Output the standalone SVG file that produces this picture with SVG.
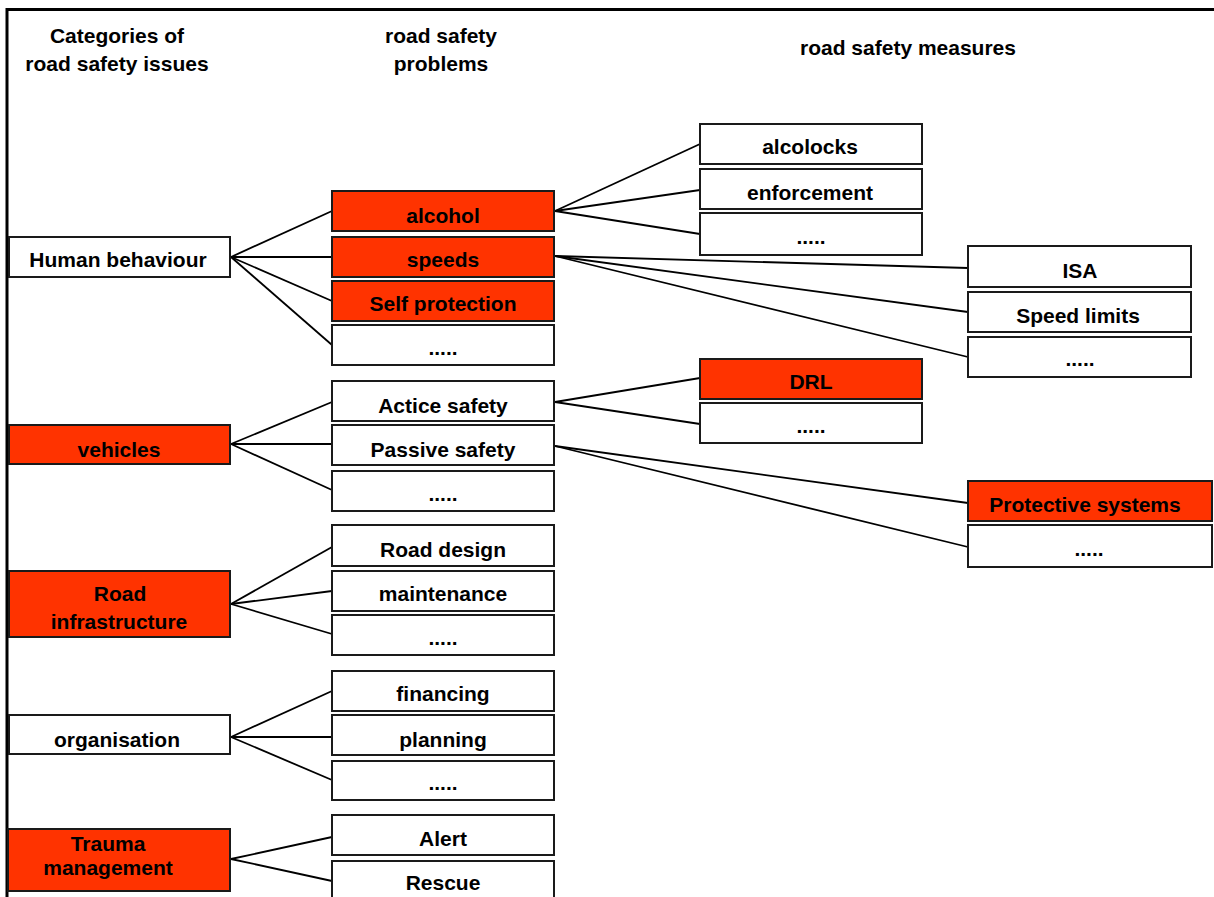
<svg xmlns="http://www.w3.org/2000/svg" width="1214" height="897" viewBox="0 0 1214 897">
<style>
text{font-family:"Liberation Sans",Arial,sans-serif;font-weight:bold;font-size:21px;fill:#000;text-anchor:middle}
.b{fill:#fff;stroke:#1a1a1a;stroke-width:2}
.r{fill:#ff3300;stroke:#1a1a1a;stroke-width:2}
.c line{stroke:#000;stroke-width:1.8}
</style>
<rect width="1214" height="897" fill="#fff"/>
<g id="frame"><path d="M7,897 V9.5 H1214" fill="none" stroke="#000" stroke-width="3"/></g>
<g id="headers">
<text x="117" y="43">Categories of</text>
<text x="117" y="71">road safety issues</text>
<text x="441" y="43">road safety</text>
<text x="441" y="71">problems</text>
<text x="908" y="55">road safety measures</text>
</g>
<g class="c" id="connectors">
<line x1="231" y1="257" x2="332" y2="211"/>
<line x1="231" y1="257" x2="332" y2="257"/>
<line x1="231" y1="257" x2="332" y2="301"/>
<line x1="231" y1="257" x2="332" y2="345"/>
<line x1="555" y1="211" x2="700" y2="144"/>
<line x1="555" y1="211" x2="700" y2="190"/>
<line x1="555" y1="211" x2="700" y2="234"/>
<line x1="555" y1="256" x2="968" y2="268"/>
<line x1="555" y1="256" x2="968" y2="312"/>
<line x1="555" y1="256" x2="968" y2="357"/>
<line x1="231" y1="444" x2="332" y2="402"/>
<line x1="231" y1="444" x2="332" y2="444"/>
<line x1="231" y1="444" x2="332" y2="490"/>
<line x1="555" y1="402" x2="700" y2="378"/>
<line x1="555" y1="402" x2="700" y2="424"/>
<line x1="555" y1="446" x2="968" y2="503"/>
<line x1="555" y1="446" x2="968" y2="547"/>
<line x1="231" y1="604" x2="332" y2="547"/>
<line x1="231" y1="604" x2="332" y2="591"/>
<line x1="231" y1="604" x2="332" y2="634"/>
<line x1="231" y1="737" x2="332" y2="691"/>
<line x1="231" y1="737" x2="332" y2="737"/>
<line x1="231" y1="737" x2="332" y2="780"/>
<line x1="231" y1="859" x2="332" y2="837"/>
<line x1="231" y1="859" x2="332" y2="881"/>
</g>
<g id="n-human"><rect class="b" x="9" y="237" width="221" height="40"/><text x="118" y="267">Human behaviour</text></g>
<g id="n-vehicles"><rect class="r" x="9" y="425" width="221" height="39"/><text x="119" y="457">vehicles</text></g>
<g id="n-road"><rect class="r" x="9" y="571" width="221" height="66"/><text x="120" y="601">Road</text><text x="119" y="629">infrastructure</text></g>
<g id="n-org"><rect class="b" x="9" y="715" width="221" height="39"/><text x="117" y="747">organisation</text></g>
<g id="n-trauma"><rect class="r" x="8" y="829" width="222" height="62"/><text x="108" y="851">Trauma</text><text x="108" y="875">management</text></g>

<g id="n-alcohol"><rect class="r" x="332" y="191" width="222" height="40"/><text x="443" y="223">alcohol</text></g>
<g id="n-speeds"><rect class="r" x="332" y="237" width="222" height="40"/><text x="443" y="267">speeds</text></g>
<g id="n-selfprot"><rect class="r" x="332" y="281" width="222" height="40"/><text x="443" y="311">Self protection</text></g>
<g id="n-hb-more"><rect class="b" x="332" y="325" width="222" height="40"/><text x="443" y="355">.....</text></g>
<g id="n-active"><rect class="b" x="332" y="381" width="222" height="40"/><text x="443" y="413">Actice safety</text></g>
<g id="n-passive"><rect class="b" x="332" y="425" width="222" height="40"/><text x="443" y="457">Passive safety</text></g>
<g id="n-veh-more"><rect class="b" x="332" y="471" width="222" height="40"/><text x="443" y="501">.....</text></g>
<g id="n-design"><rect class="b" x="332" y="525" width="222" height="41"/><text x="443" y="557">Road design</text></g>
<g id="n-maint"><rect class="b" x="332" y="571" width="222" height="40"/><text x="443" y="601">maintenance</text></g>
<g id="n-road-more"><rect class="b" x="332" y="615" width="222" height="40"/><text x="443" y="645">.....</text></g>
<g id="n-financing"><rect class="b" x="332" y="671" width="222" height="40"/><text x="443" y="701">financing</text></g>
<g id="n-planning"><rect class="b" x="332" y="715" width="222" height="40"/><text x="443" y="747">planning</text></g>
<g id="n-org-more"><rect class="b" x="332" y="761" width="222" height="39"/><text x="443" y="790">.....</text></g>
<g id="n-alert"><rect class="b" x="332" y="815" width="222" height="40"/><text x="443" y="846">Alert</text></g>
<g id="n-rescue"><rect class="b" x="332" y="861" width="222" height="40"/><text x="443" y="890">Rescue</text></g>

<g id="n-alcolocks"><rect class="b" x="700" y="124" width="222" height="40"/><text x="810" y="154">alcolocks</text></g>
<g id="n-enforcement"><rect class="b" x="700" y="169" width="222" height="40"/><text x="810" y="200">enforcement</text></g>
<g id="n-alc-more"><rect class="b" x="700" y="213" width="222" height="42"/><text x="811" y="244">.....</text></g>
<g id="n-drl"><rect class="r" x="700" y="359" width="222" height="40"/><text x="811" y="389">DRL</text></g>
<g id="n-act-more"><rect class="b" x="700" y="403" width="222" height="40"/><text x="811" y="433">.....</text></g>

<g id="n-isa"><rect class="b" x="968" y="246" width="223" height="41"/><text x="1080" y="278">ISA</text></g>
<g id="n-speedlimits"><rect class="b" x="968" y="292" width="223" height="40"/><text x="1078" y="323">Speed limits</text></g>
<g id="n-spd-more"><rect class="b" x="968" y="337" width="223" height="40"/><text x="1080" y="366">.....</text></g>
<g id="n-protective"><rect class="r" x="968" y="481" width="244" height="40"/><text x="1085" y="512">Protective systems</text></g>
<g id="n-pas-more"><rect class="b" x="968" y="525" width="244" height="42"/><text x="1089" y="556">.....</text></g>
</svg>
